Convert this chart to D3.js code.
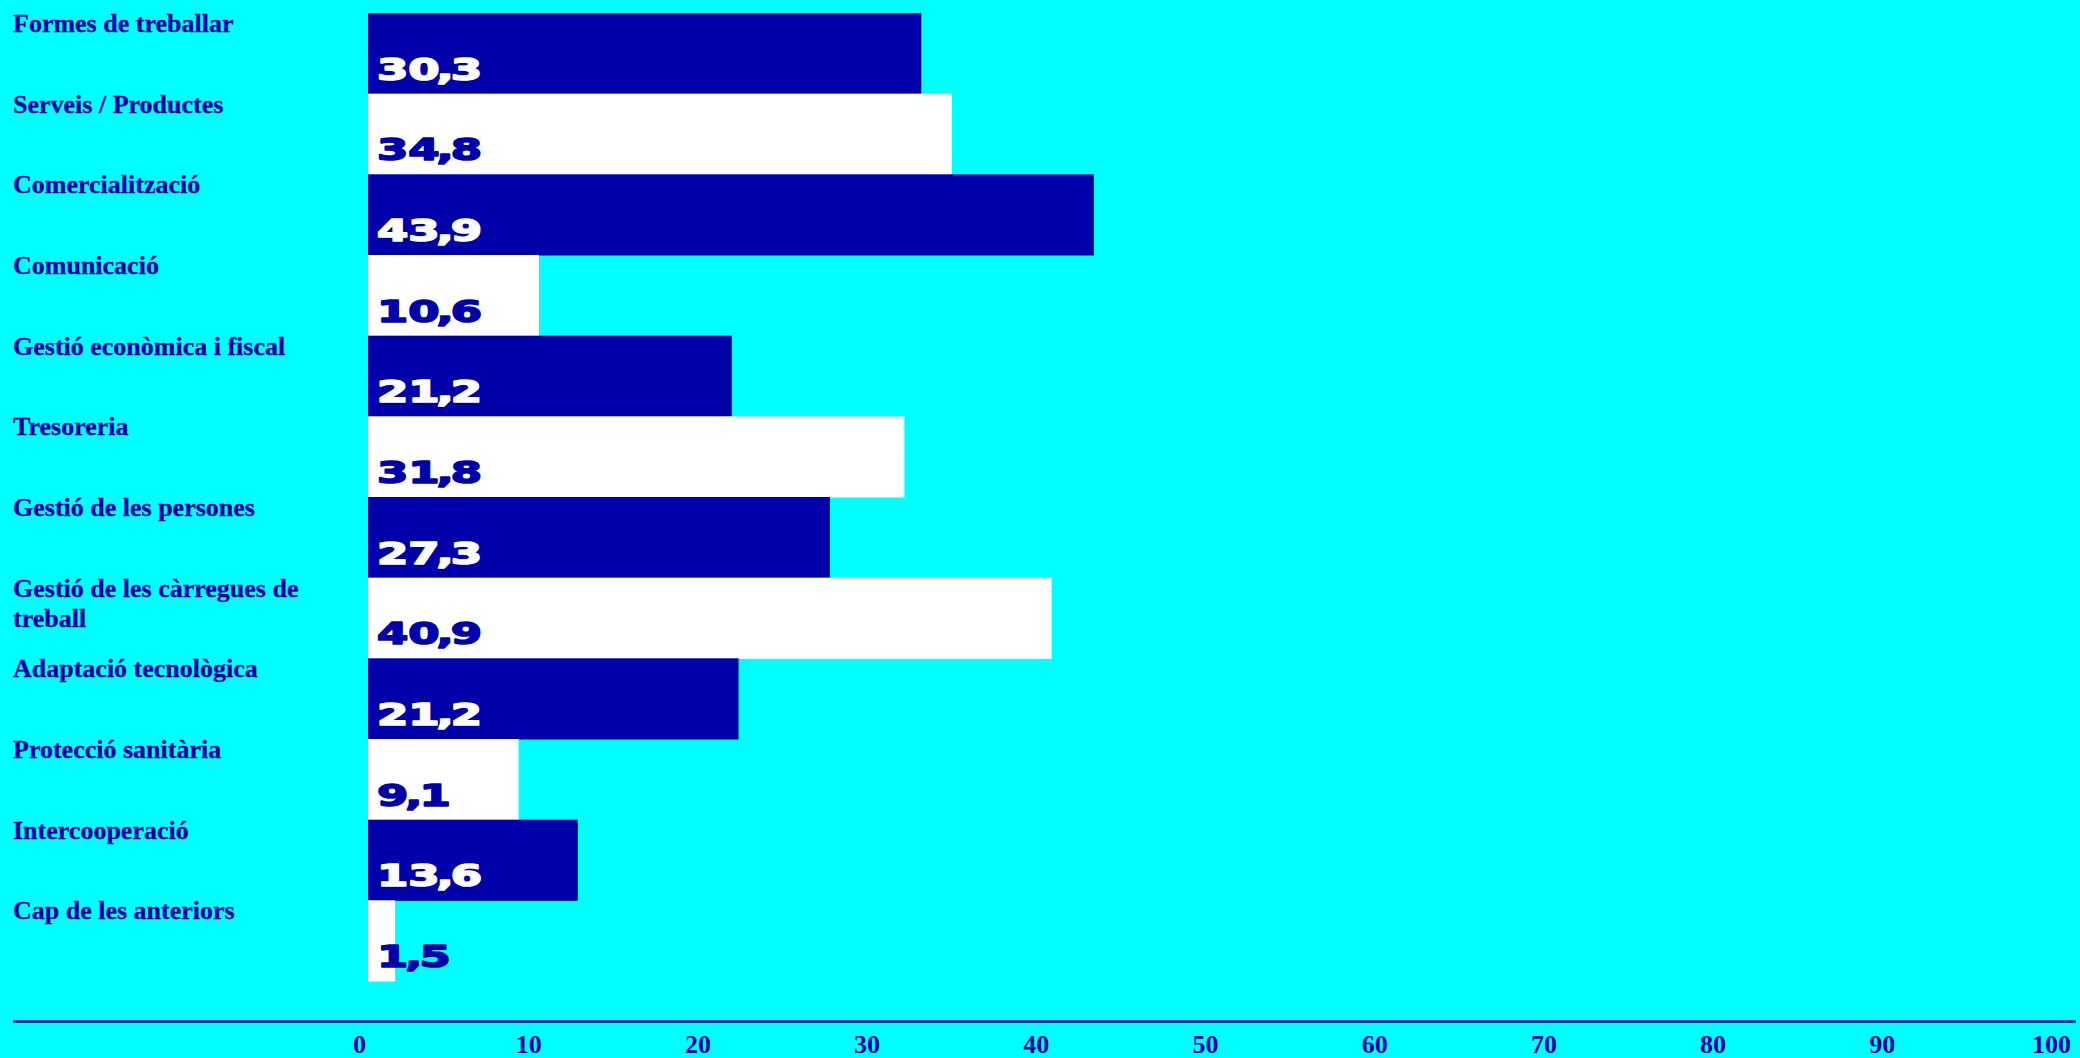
<!DOCTYPE html>
<html>
<head>
<meta charset="utf-8">
<script src="https://cdn.jsdelivr.net/npm/d3@7"></script>
<style>
  body { margin: 0; background: #00ffff; }
  svg { display: block; }
</style>
</head>
<body>
<svg id="chart" width="2080" height="1058"></svg>
<script>
var categories = [
  "Formes de treballar",
  "Serveis / Productes",
  "Comercialització",
  "Comunicació",
  "Gestió econòmica i fiscal",
  "Tresoreria",
  "Gestió de les persones",
  "Gestió de les càrregues de treball",
  "Adaptació tecnològica",
  "Protecció sanitària",
  "Intercooperació",
  "Cap de les anteriors"
];

// bar lengths as drawn in the picture (axis units)
var barValues = [32.7, 34.5, 42.9, 10.1, 21.5, 31.7, 27.3, 40.4, 21.9, 8.9, 12.4, 1.6];

// printed labels
var valueLabels = ["30,3", "34,8", "43,9", "10,6", "21,2", "31,8", "27,3", "40,9", "21,2", "9,1", "13,6", "1,5"];

var xTicks = [0, 10, 20, 30, 40, 50, 60, 70, 80, 90, 100];

var dark = "#0000aa";
var light = "#ffffff";

var svg = d3.select("#chart");

svg.append("rect")
  .attr("width", 2080)
  .attr("height", 1058)
  .attr("fill", "#00ffff");

var y = d3.scaleBand()
  .domain(categories)
  .range([13, 981])
  .padding(0);

var xAxisScale = d3.scaleLinear().domain([0, 100]).range([359, 2051]);
var xBar = d3.scaleLinear().domain([0, 100]).range([368, 2060]);

var rows = svg.selectAll(".row")
  .data(categories)
  .enter()
  .append("g")
  .attr("class", "row")
  .attr("transform", function(d) { return "translate(0," + y(d) + ")"; });

// bars
rows.append("rect")
  .attr("x", xBar(0))
  .attr("y", 0)
  .attr("width", function(d, i) { return xBar(barValues[i]) - xBar(0); })
  .attr("height", y.bandwidth() + 0.5)
  .attr("fill", function(d, i) { return i % 2 === 0 ? dark : light; });

// category labels, wrapped
rows.append("text")
  .attr("x", 13)
  .attr("y", 19)
  .attr("font-family", "'Liberation Serif', serif")
  .attr("font-weight", "bold")
  .attr("font-size", 26)
  .attr("fill", dark)
  .attr("stroke", dark)
  .attr("stroke-width", 0.3)
  .each(function(d) {
    var text = d3.select(this);
    var words = d.split(" ");
    var line = [];
    var tspan = text.append("tspan").attr("x", 13).attr("dy", 0);
    words.forEach(function(w) {
      line.push(w);
      tspan.text(line.join(" "));
      if (tspan.node().getComputedTextLength() > 320 && line.length > 1) {
        line.pop();
        tspan.text(line.join(" "));
        line = [w];
        tspan = text.append("tspan").attr("x", 13).attr("dy", 30).text(w);
      }
    });
  });

// value labels (wide heavy face, stretched), comma kept tight
var vals = rows.append("text")
  .attr("transform", "translate(377,66.5) scale(1.5,1)")
  .attr("font-family", "'DejaVu Sans', sans-serif")
  .attr("font-weight", "bold")
  .attr("font-size", 30)
  .attr("fill", function(d, i) { return i % 2 === 0 ? light : dark; })
  .attr("stroke", function(d, i) { return i % 2 === 0 ? light : dark; })
  .attr("stroke-width", 1.6)
  .attr("stroke-linejoin", "round");

vals.each(function(d, i) {
  var parts = valueLabels[i].split(",");
  var t = d3.select(this);
  t.append("tspan").text(parts[0]);
  t.append("tspan").attr("dx", -2).text(",");
  t.append("tspan").attr("dx", -2).text(parts[1]);
});

// axis line
svg.append("line")
  .attr("x1", 13)
  .attr("x2", 2076)
  .attr("y1", 1021.5)
  .attr("y2", 1021.5)
  .attr("stroke", dark)
  .attr("stroke-width", 2.5);

var axis = svg.append("g")
  .attr("transform", "translate(0,1021)")
  .call(d3.axisBottom(xAxisScale).tickValues(xTicks).tickSize(0).tickPadding(14));

axis.select(".domain").remove();
axis.selectAll("text")
  .attr("font-family", "'Liberation Serif', serif")
  .attr("font-weight", "bold")
  .attr("font-size", 26)
  .attr("fill", dark);
</script>
</body>
</html>
